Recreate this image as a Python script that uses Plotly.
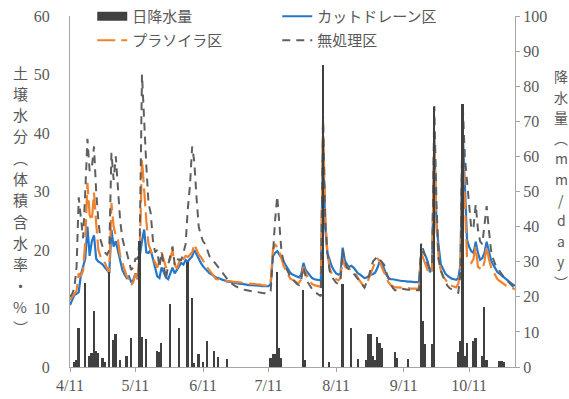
import pandas as pd
import plotly.graph_objects as go

# Daily series from 4/11 through 11/1
start_date = "2021-04-11"
end_date = "2021-11-01"

# Daily rainfall (mm/day)
rain = [
    0, 0, 1.5, 2, 11, 0, 0, 24, 0, 3,
    4, 16, 4.5, 4, 0, 2.5, 1.5, 0, 27, 0,
    7.7, 9.5, 0, 2, 0, 0, 3, 0, 8.3, 0,
    0, 0, 36, 8.6, 0, 8, 0, 0, 0, 0,
    4.5, 4.3, 6.9, 0, 0, 0, 18, 0, 0, 0,
    11, 0, 0, 0, 30, 0, 19.7, 1, 0, 3.7,
    0, 1.5, 0, 7.4, 0, 0, 4.7, 0, 2.8, 0,
    0, 0, 2.4, 0, 0, 0, 0, 0, 0, 0,
    0, 0, 0, 0, 0, 0, 0, 0, 0, 0,
    0, 0, 2.5, 3.7, 3.7, 27, 5.5, 2.5, 0, 0,
    0, 0, 0, 0, 0, 0, 0, 22, 2, 0,
    0, 0, 0, 0, 0, 0, 86, 0, 0, 1.5,
    0, 0, 0, 0, 0, 23.7, 0, 0, 0, 11,
    0, 0, 2.4, 0, 0, 0, 2, 9.5, 9.5, 3,
    2, 8.6, 6.9, 5.3, 0, 0, 0, 0, 0, 4.3,
    2.5, 0, 0, 0, 0, 2.4, 0, 0, 0, 0,
    0, 35, 13, 6.6, 0, 0, 6.6, 74, 0, 0,
    0, 0, 0, 0, 0, 0, 0, 0, 4.3, 7.5,
    75, 3, 6.9, 0, 0, 7.5, 8.3, 0, 0, 3,
    17, 2, 0, 0, 0, 0, 0, 1.7, 1.7, 1.5,
    0, 0, 0, 0, 0,
]

# Volumetric soil water content (%) - cut drain plot
cut_drain = [
    10.6, 11.5, 12.3, 12.5, 12.8, 15.8, 17.0, 18.5, 24.0, 19.0,
    21.5, 22.5, 18.5, 18.0, 17.8, 17.5, 17.0, 16.5, 16.1, 23.5,
    20.6, 21.5, 19.8, 18.0, 16.6, 15.8, 15.2, 15.5, 14.6, 14.8,
    16.0, 15.0, 19.0, 21.5, 23.5, 19.6, 19.5, 20.0, 18.5, 17.0,
    15.5, 15.2, 17.0, 16.2, 15.3, 15.0, 16.0, 17.0, 16.0, 16.5,
    17.2, 17.8, 17.5, 18.3, 18.0, 18.5, 18.9, 20.0, 19.2, 18.3,
    17.8, 17.2, 16.8, 16.4, 16.0, 15.8, 15.5, 15.3, 15.2, 15.0,
    14.9, 14.8, 14.6, 14.6, 14.5, 14.4, 14.4, 14.3, 14.2, 14.2,
    14.1, 14.1, 14.0, 14.0, 14.0, 13.9, 13.9, 13.9, 13.8, 13.8,
    13.8, 13.8, 14.2, 18.9, 19.5, 19.8, 19.2, 18.6, 18.0, 17.2,
    16.6, 16.1, 15.8, 15.6, 15.4, 15.3, 15.8, 17.8, 16.6, 16.1,
    15.6, 15.2, 15.0, 14.9, 14.8, 14.8, 38.0, 24.0, 19.5, 18.2,
    17.2, 16.5, 16.0, 15.8, 15.9, 20.4, 18.2, 17.5, 17.1, 17.3,
    17.0, 16.5, 16.0, 15.8, 15.5, 15.2, 15.3, 15.6, 15.8, 15.9,
    16.2, 17.0, 18.1, 17.8, 16.6, 15.8, 15.2, 15.0, 15.0, 14.9,
    14.8, 14.8, 14.7, 14.7, 14.6, 14.6, 14.6, 14.5, 14.5, 14.5,
    14.5, 19.5, 19.7, 19.0, 18.0, 16.2, 16.8, 39.4, 24.5, 20.6,
    17.5, 16.8, 16.0, 15.6, 15.3, 15.1, 15.0, 14.9, 15.2, 17.5,
    40.6, 30.9, 21.8, 20.5, 19.8, 19.5, 21.4, 19.5, 18.3, 18.6,
    19.5, 21.4, 20.0, 18.3, 17.5, 16.8, 16.2, 15.9, 15.6, 15.2,
    15.0, 14.7, 14.4, 14.1, 13.9,
]

# Volumetric soil water content (%) - Plasoiler plot
plasoiler = [
    11.5, 12.0, 12.5, 13.0, 16.0, 15.5, 16.5, 21.4, 31.5, 26.0,
    25.0, 29.8, 24.6, 20.0, 18.9, 18.2, 17.8, 17.0, 16.0, 28.0,
    24.0, 22.5, 21.7, 19.0, 17.8, 16.5, 15.5, 15.0, 14.0, 14.5,
    16.0, 15.0, 20.0, 35.5, 29.8, 25.0, 21.0, 20.0, 18.5, 17.9,
    17.0, 18.0, 19.6, 18.2, 17.0, 17.5, 18.5, 20.0, 17.5, 16.8,
    18.0, 19.0, 18.5, 19.0, 18.8, 19.3, 19.6, 21.0, 20.0, 19.2,
    18.8, 18.3, 17.6, 17.0, 16.4, 16.0, 15.5, 15.0, 15.0, 14.9,
    14.8, 14.8, 14.7, 14.7, 14.6, 14.5, 14.5, 14.5, 14.4, 14.4,
    14.4, 14.3, 14.3, 14.2, 14.2, 14.2, 14.1, 14.1, 14.0, 14.0,
    13.9, 13.9, 14.5, 20.0, 21.0, 20.5, 19.8, 18.5, 17.2, 16.5,
    15.8, 15.1, 14.9, 14.6, 14.4, 14.4, 15.0, 17.1, 16.0, 15.2,
    14.6, 14.2, 14.0, 13.9, 13.8, 13.7, 42.0, 26.0, 19.5, 16.9,
    16.0, 15.4, 15.0, 14.8, 15.2, 18.6, 17.2, 16.9, 16.8, 16.5,
    16.2, 15.8, 15.2, 14.6, 14.0, 13.6, 14.2, 15.2, 16.0, 17.0,
    18.0, 18.5, 18.2, 17.0, 16.2, 15.2, 14.5, 14.0, 13.8, 13.6,
    13.6, 13.6, 13.5, 13.5, 13.5, 13.5, 13.4, 13.4, 13.4, 13.4,
    13.4, 19.5, 18.5, 17.5, 16.5, 16.0, 16.5, 39.4, 24.0, 18.5,
    16.5, 15.5, 15.0, 14.5, 14.0, 13.9, 13.8, 13.6, 14.2, 16.5,
    37.7, 28.0, 18.9, 18.2, 17.8, 18.5, 20.6, 17.1, 16.8, 16.6,
    18.0, 20.6, 18.5, 17.1, 16.3, 15.6, 15.0, 14.7, 14.4, 14.1,
    13.9, 13.8, 13.6, 13.4, 13.3,
]

# Volumetric soil water content (%) - untreated plot
untreated = [
    12.0, 12.5, 13.5, 17.0, 29.0, 25.0, 22.0, 30.0, 39.0, 33.5,
    34.0, 37.7, 30.0, 25.0, 21.7, 20.5, 19.6, 19.2, 20.0, 36.6,
    32.0, 36.0, 30.0, 25.0, 22.0, 20.5, 19.6, 18.0, 16.6, 17.0,
    18.5, 18.5, 22.0, 50.0, 41.0, 34.3, 28.0, 26.3, 21.7, 19.6,
    20.0, 17.0, 19.6, 17.5, 15.0, 17.5, 19.0, 20.6, 17.5, 18.5,
    18.3, 18.3, 19.5, 21.0, 27.0, 31.0, 37.7, 35.0, 29.0, 24.0,
    22.5, 21.5, 21.0, 20.0, 18.9, 18.5, 18.0, 17.5, 17.0, 16.5,
    16.0, 15.5, 15.0, 14.6, 14.3, 14.0, 13.8, 13.6, 13.4, 13.3,
    13.2, 13.1, 13.0, 13.0, 12.9, 12.8, 12.8, 12.7, 12.6, 12.6,
    12.6, 12.6, 13.0, 19.4, 25.0, 29.2, 23.6, 19.5, 18.0, 17.0,
    16.2, 15.5, 15.0, 14.6, 14.2, 14.0, 15.0, 17.1, 15.5, 14.5,
    13.8, 13.3, 12.9, 12.6, 12.3, 12.1, 43.0, 25.0, 19.5, 16.5,
    15.4, 14.8, 14.4, 14.2, 15.0, 20.0, 18.0, 17.0, 16.6, 16.3,
    16.0, 15.5, 15.0, 14.7, 14.2, 13.6, 14.5, 15.5, 17.0, 18.1,
    18.5, 18.9, 18.4, 18.0, 17.5, 16.2, 15.0, 14.2, 13.5, 13.1,
    13.2, 13.4, 13.4, 13.3, 13.2, 13.2, 13.2, 13.1, 13.1, 13.1,
    13.1, 21.2, 20.0, 18.8, 17.5, 16.9, 17.0, 44.6, 28.0, 18.3,
    16.5, 15.5, 14.6, 13.9, 13.5, 13.3, 13.0, 12.8, 12.7, 16.0,
    45.2, 36.0, 31.4, 27.5, 23.5, 24.0, 27.8, 23.5, 21.5, 21.0,
    24.0, 27.5, 23.5, 20.0, 18.5, 17.5, 16.9, 16.3, 15.8, 15.3,
    14.9, 14.5, 14.1, 13.8, 13.7,
]

tick_dates = ["2021-04-11", "2021-05-11", "2021-06-11", "2021-07-11",
              "2021-08-11", "2021-09-11", "2021-10-11"]
tick_labels = ["4/11", "5/11", "6/11", "7/11", "8/11", "9/11", "10/11"]

# Vertical axis titles, one glyph per row
left_title_chars = list("土壌水分") + ["︵"] + list("体積含水率") + ["・", "%", "︶"]
right_title_chars = list("降水量") + ["︵", "m", "m", "/", "d", "a", "y", "︶"]

dates = pd.date_range(start_date, periods=len(rain), freq="D")

SERIF = "Liberation Serif, 'Noto Sans CJK JP', serif"
JP = "'Noto Sans CJK JP', sans-serif"
TEXT_GRAY = "#595959"
AXIS_GRAY = "#A6A6A6"
BAR_COLOR = "#404040"
DAY_MS = 86400000

# Plot area in pixels: x 70..515, y 16..367
PX_L, PX_W, PX_B, PX_H = 70, 445, 367, 351


def paper_x(px):
    return (px - PX_L) / PX_W


def paper_y(py):
    return (PX_B - py) / PX_H


fig = go.Figure()

# Legend key for the rainfall bars: a wide flat swatch
fig.add_trace(go.Scatter(
    x=[None], y=[None], name="日降水量", mode="lines", legend="legend",
    line=dict(color=BAR_COLOR, width=9), hoverinfo="skip",
))
fig.add_trace(go.Bar(
    x=dates, y=rain, name="日降水量", yaxis="y2", showlegend=False,
    width=0.8 * DAY_MS, marker=dict(color=BAR_COLOR, line=dict(width=0)),
))
fig.add_trace(go.Scatter(
    x=dates, y=cut_drain, name="カットドレーン区", mode="lines", legend="legend",
    line=dict(color="#2478CC", width=2.2),
))
fig.add_trace(go.Scatter(
    x=dates, y=plasoiler, name="プラソイラ区", mode="lines", legend="legend2",
    line=dict(color="#F0822E", width=2.2, dash="18px,6px"),
))
fig.add_trace(go.Scatter(
    x=dates, y=untreated, name="無処理区", mode="lines", legend="legend2",
    line=dict(color="#5F5F5F", width=2.0, dash="8px,6px"),
))

annotations = []
for i, ch in enumerate(left_title_chars):
    annotations.append(dict(
        text=ch, xref="paper", yref="paper",
        x=paper_x(20), y=paper_y(72 + 21.3 * i),
        xanchor="center", yanchor="middle", showarrow=False,
        font=dict(family=JP, size=15, color=TEXT_GRAY),
    ))
for i, ch in enumerate(right_title_chars):
    annotations.append(dict(
        text=ch, xref="paper", yref="paper",
        x=paper_x(561), y=paper_y(76 + 20.6 * i),
        xanchor="center", yanchor="middle", showarrow=False,
        font=dict(family=JP, size=14, color=TEXT_GRAY),
    ))

legend_common = dict(
    orientation="h", xanchor="left", yanchor="top",
    entrywidth=140, bgcolor="rgba(0,0,0,0)",
    font=dict(family=JP, size=15, color=TEXT_GRAY),
    traceorder="normal",
)

fig.update_layout(
    width=569, height=399,
    margin=dict(l=70, r=54, t=16, b=32, autoexpand=False),
    paper_bgcolor="white", plot_bgcolor="white",
    font=dict(family=SERIF, size=16, color=TEXT_GRAY),
    bargap=0,
    xaxis=dict(
        type="date", range=[start_date, end_date],
        tickvals=tick_dates, ticktext=tick_labels,
        ticks="outside", ticklen=4, tickcolor=AXIS_GRAY,
        showline=True, linecolor=AXIS_GRAY, linewidth=1,
        showgrid=False, zeroline=False,
        tickfont=dict(family=SERIF, size=16, color=TEXT_GRAY),
    ),
    yaxis=dict(
        range=[0, 60], dtick=10, showgrid=False, zeroline=False,
        showline=True, linecolor=AXIS_GRAY, linewidth=1, ticks="",
        tickfont=dict(family=SERIF, size=16, color=TEXT_GRAY),
        ticklabelstandoff=16,
    ),
    yaxis2=dict(
        range=[0, 100], dtick=10, overlaying="y", side="right",
        showgrid=False, zeroline=False,
        showline=True, linecolor=AXIS_GRAY, linewidth=1,
        ticks="outside", ticklen=4, tickcolor=AXIS_GRAY,
        tickfont=dict(family=SERIF, size=16, color=TEXT_GRAY),
    ),
    legend=dict(x=0.05, y=paper_y(0), **legend_common),
    legend2=dict(x=0.05, y=paper_y(24), **legend_common),
    annotations=annotations,
)

fig.write_html("out.html")
